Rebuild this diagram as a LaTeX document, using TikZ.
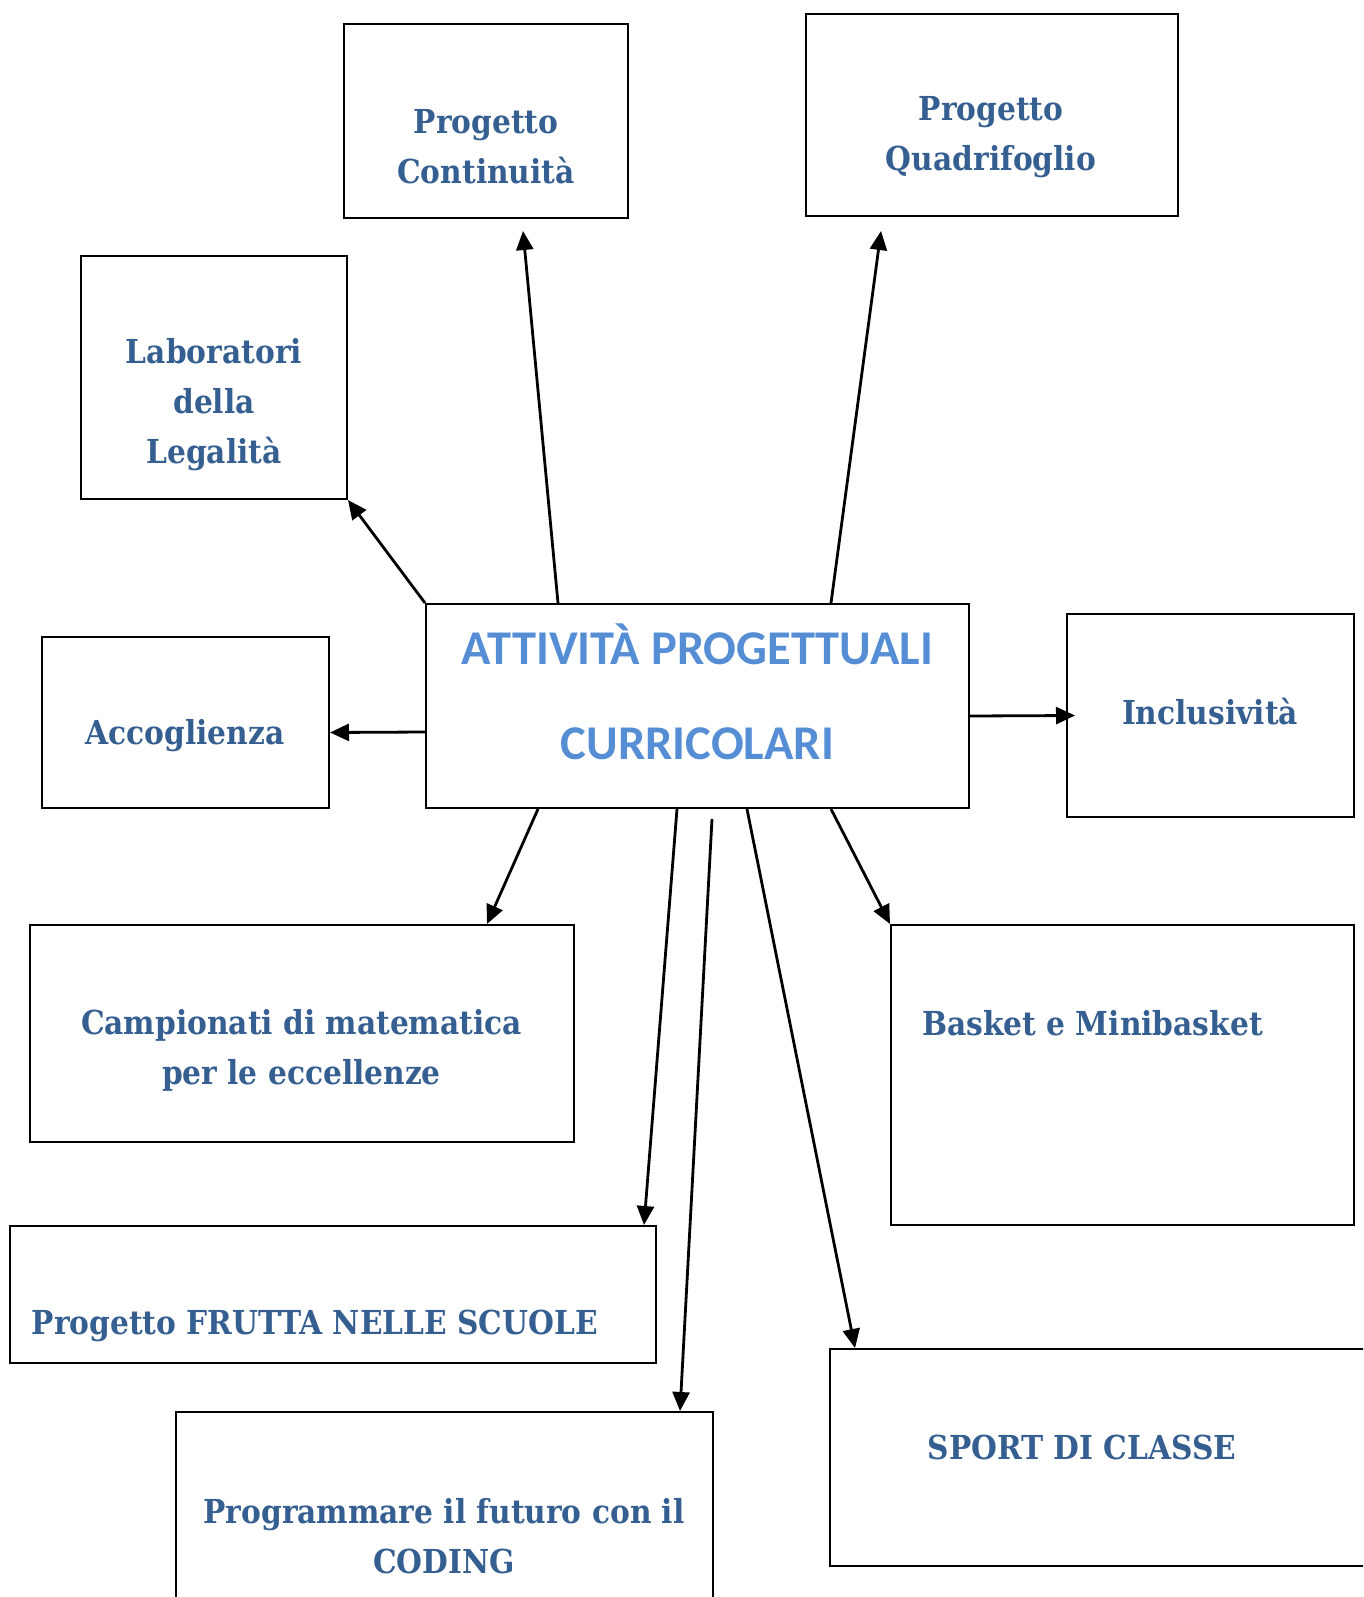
\documentclass[tikz,border=0pt]{standalone}
\usepackage{fontspec}
\setmainfont{Liberation Serif}
\newfontfamily\boxfont{DejaVu Serif Condensed}
\newfontfamily\titlefont{Carlito}
\usetikzlibrary{arrows.meta}
\definecolor{boxblue}{HTML}{365F91}
\definecolor{titleblue}{HTML}{558ED5}
\begin{document}
\begin{tikzpicture}[x=1pt, y=-1pt,
  box/.style={draw, line width=2pt, inner sep=0pt},
  boxtext/.style={text=boxblue, font=\boxfont\fontsize{33}{50}\selectfont\bfseries, align=center, inner sep=0pt},
  link/.style={-{Triangle[length=19pt,width=17pt]}, line width=2.8pt}]
\clip (0,0) rectangle (1363,1597);

% boxes
\node[box, minimum width=543pt, minimum height=204pt] (main) at (697.5,706) {};
\node[box, minimum width=284pt, minimum height=194pt] (conti) at (486,121) {};
\node[box, minimum width=372pt, minimum height=202pt] (quadri) at (992,115) {};
\node[box, minimum width=266pt, minimum height=243pt] (lab) at (214,377.5) {};
\node[box, minimum width=287pt, minimum height=171pt] (accog) at (185.5,722.5) {};
\node[box, minimum width=287pt, minimum height=203pt] (incl) at (1210.5,715.5) {};
\node[box, minimum width=544pt, minimum height=217pt] (camp) at (301.5,1033.5) {};
\node[box, minimum width=463pt, minimum height=300pt] (basket) at (1122.5,1075) {};
\node[box, minimum width=646pt, minimum height=137pt] (frutta) at (333,1294.5) {};
\node[box, minimum width=537pt, minimum height=200pt] (coding) at (444.5,1512) {};
\node[box, minimum width=550pt, minimum height=217pt] (sport) at (1105,1457.5) {};

% texts
\node[text=titleblue, font=\titlefont\fontsize{48.5}{95}\selectfont\bfseries, align=center, inner sep=0pt] (title) at (697.5,692) {ATTIVITÀ PROGETTUALI\\CURRICOLARI};
\node[boxtext] (conti text) at (486,147) {Progetto\\Continuità};
\node[boxtext] (quadri text) at (991,137.5) {Progetto\\Quadrifoglio};
\node[boxtext] (lab text) at (214,405) {Laboratori\\della\\Legalità};
\node[boxtext] (accog text) at (185,736) {Accoglienza};
\node[boxtext] (incl text) at (1210,712) {Inclusività};
\node[boxtext] (camp text) at (301.5,1050) {Campionati di matematica\\per le eccellenze};
\node[boxtext, anchor=west] (basket text) at (922,1023) {Basket e Minibasket};
\node[boxtext, anchor=west] (frutta text) at (31.5,1326) {Progetto FRUTTA NELLE SCUOLE};
\node[boxtext] (coding text) at (444,1536.5) {Programmare il futuro con il\\CODING};
\node[boxtext] (sport text) at (1082,1447) {SPORT DI CLASSE};

% arrows
\draw[link] ([xshift=133pt]main.north west) -- ([xshift=37pt, yshift=-12pt]conti.south);
\draw[link] ([xshift=-139pt]main.north east) -- ([xshift=-111pt, yshift=-14pt]quadri.south);
\draw[link] (main.north west) -- (lab.south east);
\draw[link] ([yshift=-26pt]main.west) -- ([yshift=-10pt]accog.east);
\draw[link] ([yshift=-10pt]main.east) -- ([xshift=9pt]incl.west);
\draw[link] ([xshift=113pt]main.south west) -- ([xshift=-87.5pt]camp.north east);
\draw[link] ([xshift=252pt]main.south west) -- ([xshift=-13pt]frutta.north east);
\draw[link] ([xshift=287pt, yshift=-10pt]main.south west) -- ([xshift=-34pt]coding.north east);
\draw[link] ([xshift=322pt]main.south west) -- ([xshift=26pt]sport.north west);
\draw[link] ([xshift=-139pt]main.south east) -- (basket.north west);
\end{tikzpicture}
\end{document}
